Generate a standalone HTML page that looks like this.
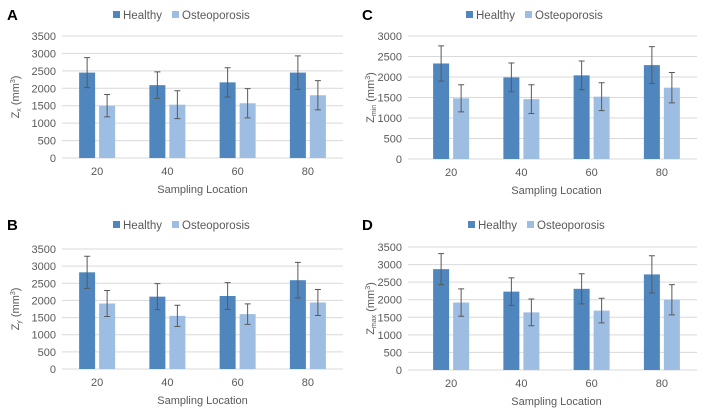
<!DOCTYPE html>
<html><head><meta charset="utf-8"><style>
body{margin:0;background:#fff;}
svg{display:block;font-family:"Liberation Sans",sans-serif;}
</style></head><body>
<svg id="chart" width="705" height="414"></svg>
<script>
const categories=["20","40","60","80"];
const healthyA=[2450,2090,2170,2450], errHA=[430,380,420,480];
const osteoA=[1500,1530,1570,1800], errOA=[320,400,420,420];
const healthyB=[2820,2110,2130,2590], errHB=[470,380,390,520];
const osteoB=[1910,1550,1600,1940], errOB=[380,310,300,380];
const healthyC=[2330,1990,2040,2290], errHC=[430,350,350,450];
const osteoC=[1480,1460,1520,1740], errOC=[330,350,340,370];
const healthyD=[2870,2230,2310,2720], errHD=[440,390,430,530];
const osteoD=[1920,1640,1690,2000], errOD=[390,380,350,430];
const ticks3500=[0,500,1000,1500,2000,2500,3000,3500];
const ticks3000=[0,500,1000,1500,2000,2500,3000];
const NS="http://www.w3.org/2000/svg";
const svg=document.getElementById('chart');
function el(t,a,p){const e=document.createElementNS(NS,t);for(const k in a)e.setAttribute(k,a[k]);(p||svg).appendChild(e);return e;}
function panel(cfg){
  const g=el('g',{});
  
  
  const max=cfg.ticks[cfg.ticks.length-1];
  const y=v=>cfg.bottom-(v/max)*(cfg.bottom-cfg.top);
  const step=(cfg.cr-cfg.cl)/categories.length;
  const cx=i=>cfg.cl+(i+0.5)*step;
  const L=el('text',{x:cfg.ox+7,y:cfg.oy+20,'font-size':15,'font-weight':'bold',fill:'#000'},g);L.textContent=cfg.letter;
  
  const lg=el('g',{},g);
  el('rect',{x:cfg.lx,y:cfg.oy+11,width:7,height:7,fill:'#4f86be'},lg);
  let t=el('text',{x:cfg.lx+10,y:cfg.oy+19,'font-size':11.5,fill:'#595959'},lg);t.textContent='Healthy';
  el('rect',{x:cfg.lx+59,y:cfg.oy+11,width:7,height:7,fill:'#9dbde3'},lg);
  t=el('text',{x:cfg.lx+69,y:cfg.oy+19,'font-size':11.5,fill:'#595959'},lg);t.textContent='Osteoporosis';
  cfg.ticks.forEach(v=>{
    const l=el('line',{x1:cfg.gl,x2:cfg.cr,y1:y(v),y2:y(v),stroke:'#d9d9d9','stroke-width':1},g);
    
    const tx=el('text',{x:cfg.gl-6,y:y(v)+4,'font-size':11,fill:'#595959','text-anchor':'end'},g);tx.textContent=v;
    
  });
  const series=[[cfg.h,cfg.eh,'#4f86be',-18,'healthy'],[cfg.o,cfg.eo,'#9dbde3',2,'osteoporosis']];
  categories.forEach((c,i)=>{
    series.forEach(s=>{
      const x=cx(i)+s[3];
      const r=el('rect',{x:x,y:y(s[0][i]),width:16,height:cfg.bottom-y(s[0][i]),fill:s[2]},g);
      
      const m=x+8,t1=y(s[0][i]+s[1][i]),t2=y(s[0][i]-s[1][i]);
      const eb=el('path',{d:`M${m},${t1}V${t2}M${m-3},${t1}H${m+3}M${m-3},${t2}H${m+3}`,stroke:'#595959','stroke-width':1,fill:'none'},g);
      
    });
    const xl=el('text',{x:cx(i),y:cfg.bottom+17,'font-size':11,fill:'#595959','text-anchor':'middle'},g);xl.textContent=c;
    
  });
  const xt=el('text',{x:(cfg.cl+cfg.cr)/2,y:cfg.bottom+35,'font-size':11,fill:'#595959','text-anchor':'middle'},g);xt.textContent='Sampling Location';
  
  const ym=(cfg.top+cfg.bottom)/2;
  const yt=el('text',{x:0,y:0,'font-size':11,fill:'#595959','text-anchor':'middle',transform:`translate(${cfg.ox+19},${ym}) rotate(-90)`},g);
  yt.innerHTML='Z<tspan font-size="7" dy="2">'+cfg.sub+'</tspan><tspan dy="-2"> (mm</tspan><tspan font-size="7" dy="-4">3</tspan><tspan dy="4">)</tspan>';
  
}
panel({letter:'A',ox:0,oy:0,top:36,bottom:158,gl:62,cl:62,cr:343,lx:113,ticks:ticks3500,h:healthyA,eh:errHA,o:osteoA,eo:errOA,sub:'x'});
panel({letter:'B',ox:0,oy:210,top:249,bottom:369,gl:62,cl:62,cr:343,lx:113,ticks:ticks3500,h:healthyB,eh:errHB,o:osteoB,eo:errOB,sub:'y'});
panel({letter:'C',ox:355,oy:0,top:36,bottom:159,gl:408,cl:416,cr:697,lx:466,ticks:ticks3000,h:healthyC,eh:errHC,o:osteoC,eo:errOC,sub:'min'});
panel({letter:'D',ox:355,oy:210,top:247,bottom:370,gl:408,cl:416,cr:697,lx:468,ticks:ticks3500,h:healthyD,eh:errHD,o:osteoD,eo:errOD,sub:'max'});
</script>
</body></html>
